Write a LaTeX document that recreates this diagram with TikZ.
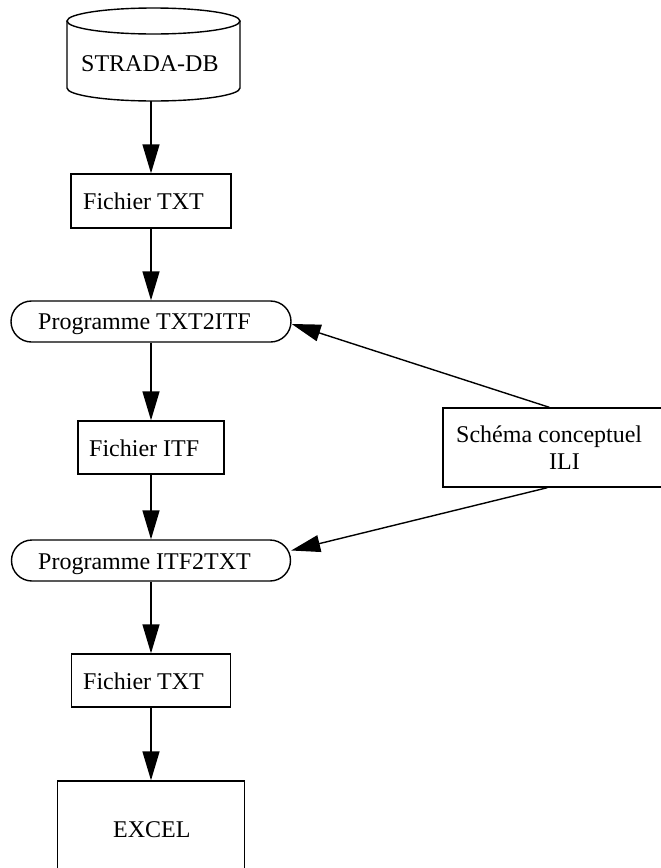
\documentclass[tikz,border=0pt]{standalone}
\usepackage{fontspec}
\setmainfont{Liberation Serif}
\usetikzlibrary{arrows.meta}
\begin{document}
\begin{tikzpicture}[x=1pt,y=-1pt,
  ln/.style={line width=1.4pt},
  box/.style={draw, ln, inner sep=0pt},
  prog/.style={box, rounded corners=20.5pt, minimum height=41pt},
  arr/.style={ln, -{Triangle[length=29pt,width=17pt]}},
  lbl/.style={anchor=base west, inner sep=0pt, font=\fontsize{24}{27}\selectfont}]
\useasboundingbox (0,0) rectangle (661,868);
\clip (0,0) rectangle (661,868);

% database cylinder
\node[inner sep=0pt, minimum width=173pt, minimum height=93pt] (db) at (153.5,54.5) {};
\draw[ln] (153.5,21) ellipse [x radius=86.5pt, y radius=13pt];
\draw[ln] (67,21) -- (67,88) arc [start angle=180, end angle=360, x radius=86.5pt, y radius=13pt] -- (240,21);

% boxes
\node[box, minimum width=160pt, minimum height=54pt] (txt1) at (151,201) {};
\node[prog, minimum width=280pt] (prog1) at (151,321.5) {};
\node[box, minimum width=146pt, minimum height=53pt] (itf) at (151,447.5) {};
\node[prog, minimum width=279pt] (prog2) at (151,560.5) {};
\node[box, minimum width=159pt, minimum height=53pt] (txt2) at (151,680.5) {};
\node[box, minimum width=187pt, minimum height=119pt] (excel) at (151,840.5) {};
\node[box, minimum width=237pt, minimum height=79pt] (schema) at (561.5,447.5) {};

% texts
\node[lbl] (ldb) at (81,71) {STRADA-DB};
\node[lbl] (l1) at (83,209) {Fichier TXT};
\node[lbl] (l2) at (38,329) {Programme TXT2ITF};
\node[lbl] (l3) at (89,456) {Fichier ITF};
\node[lbl] (l4) at (38,569) {Programme ITF2TXT};
\node[lbl] (l5) at (83,689) {Fichier TXT};
\node[lbl] (l6) at (113,837) {EXCEL};
\node[lbl] (l7) at (456,442) {Schéma conceptuel};
\node[lbl] (l8) at (549,469) {ILI};

% flow
\draw[arr] (db.south -| txt1.north) -- (txt1.north);
\draw[arr] (txt1.south) -- (prog1.north);
\draw[arr] (prog1.south) -- (itf.north);
\draw[arr] (itf.south) -- (prog2.north);
\draw[arr] (prog2.south) -- (txt2.north);
\draw[arr] (txt2.south) -- (excel.north);

% schema feeds both programs
\coordinate (s1) at ([xshift=107pt]schema.north west);
\coordinate (s2) at ([xshift=105pt]schema.south west);
\draw[arr] (s1) -- ([yshift=-2.5pt]prog1.east);
\draw[arr] (s2) -- ([yshift=10pt]prog2.east);
\end{tikzpicture}
\end{document}
